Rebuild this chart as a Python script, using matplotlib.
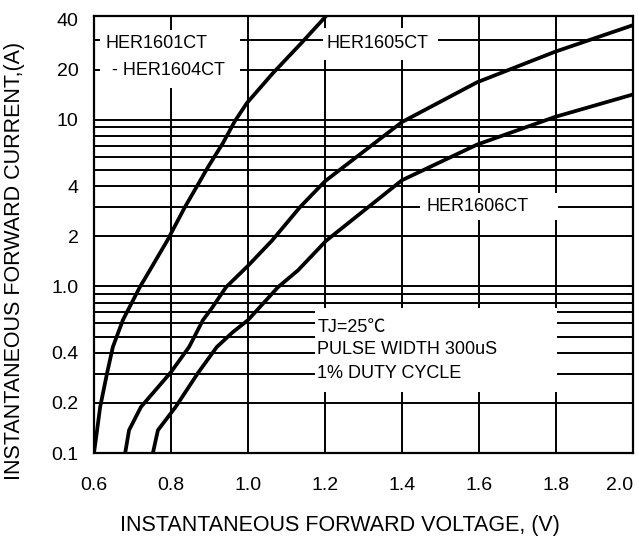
import matplotlib
matplotlib.use("Agg")
import matplotlib.pyplot as plt
from matplotlib.ticker import FixedLocator, FixedFormatter, NullFormatter
from matplotlib.patches import Rectangle

plt.rcParams['font.family'] = ['Liberation Sans', 'Noto Sans CJK SC', 'DejaVu Sans']

# Data (forward voltage V, forward current A)
v_1601 = [0.600, 0.608, 0.616, 0.634, 0.649, 0.675, 0.719, 0.745, 0.790, 0.836, 0.875,
          0.896, 0.935, 0.966, 0.997, 1.065, 1.138, 1.203]
i_1601 = [0.100, 0.137, 0.189, 0.302, 0.433, 0.628, 0.99, 1.25, 1.88, 2.99, 4.28,
          5.2, 7.26, 9.83, 12.6, 19.1, 28.8, 42.0]

v_1605 = [0.681, 0.691, 0.722, 0.800, 0.847, 0.883, 0.906, 0.943, 1.000, 1.062, 1.135,
          1.200, 1.400, 1.595, 1.797, 2.000]
i_1605 = [0.100, 0.137, 0.189, 0.306, 0.433, 0.628, 0.74, 0.99, 1.33, 1.88, 2.99,
          4.28, 9.7, 16.8, 25.6, 37.0]

v_1606 = [0.753, 0.766, 0.812, 0.870, 0.919, 0.960, 1.000, 1.078, 1.130, 1.187, 1.203,
          1.400, 1.595, 1.797, 2.000]
i_1606 = [0.100, 0.137, 0.189, 0.302, 0.433, 0.53, 0.628, 0.99, 1.25, 1.72, 1.88,
          4.34, 7.1, 10.4, 14.2]

x_ticks = [0.6, 0.8, 1.0, 1.2, 1.4, 1.6, 1.8, 2.0]
x_tick_labels = ["0.6", "0.8", "1.0", "1.2", "1.4", "1.6", "1.8", "2.0"]
y_ticks = [0.1, 0.2, 0.4, 1.0, 2, 4, 10, 20, 40]
y_tick_labels = ["0.1", "0.2", "0.4", "1.0", "2", "4", "10", "20", "40"]
y_grid = [0.2, 0.3, 0.4, 0.5, 0.6, 0.7, 0.8, 0.9, 1, 2, 3, 4, 5, 6, 7, 8, 9, 10, 20, 30]

fig = plt.figure(figsize=(6.39, 5.39), dpi=100)
ax = fig.add_axes([94/639, 86/539, 539/639, 437/539])
ax.set_yscale('log')
ax.set_xlim(0.6, 2.0)
ax.set_ylim(0.1, 42)

# grid
for yv in y_grid:
    ax.axhline(yv, color='black', lw=1.4, zorder=1)
for xv in x_ticks[1:-1]:
    ax.axvline(xv, color='black', lw=1.4, zorder=1)

ax.yaxis.set_major_locator(FixedLocator(y_ticks))
ax.yaxis.set_major_formatter(FixedFormatter(y_tick_labels))
ax.yaxis.set_minor_locator(FixedLocator([]))
ax.yaxis.set_minor_formatter(NullFormatter())
ax.set_xticks(x_ticks)
ax.set_xticklabels(x_tick_labels)
ax.tick_params(axis='both', which='both', length=0, labelsize=14)
ax.tick_params(axis='x', pad=17)
ax.tick_params(axis='y', pad=11)
ax.get_xticklabels()[-1].set_horizontalalignment('right')
for s in ax.spines.values():
    s.set_linewidth(1.6)

# white boxes hiding gridlines under the labels
boxes = [
    (0.011, 0.835, 0.260, 0.133),
    (0.425, 0.899, 0.213, 0.074),
    (0.605, 0.533, 0.256, 0.062),
    (0.410, 0.140, 0.449, 0.192),
]
for (bx, by, bw, bh) in boxes:
    ax.add_patch(Rectangle((bx, by), bw, bh, transform=ax.transAxes,
                           facecolor='white', edgecolor='none', zorder=2))

for vv, ii in [(v_1601, i_1601), (v_1605, i_1605), (v_1606, i_1606)]:
    ax.plot(vv, ii, color='black', lw=2.7, zorder=4,
            solid_capstyle='butt', solid_joinstyle='round')

tkw = dict(transform=ax.transAxes, fontsize=13, zorder=5, va='center')
ax.text(0.022, 0.938, "HER1601CT", ha='left', **tkw)
ax.text(0.033, 0.876, "- HER1604CT", ha='left', **tkw)
ax.text(0.432, 0.938, "HER1605CT", ha='left', **tkw)
ax.text(0.712, 0.563, "HER1606CT", ha='center', **tkw)
ax.text(0.414, 0.288, "TJ=25\u2103", ha='left', **tkw)
ax.text(0.414, 0.236, "PULSE WIDTH 300uS", ha='left', **tkw)
ax.text(0.414, 0.183, "1% DUTY CYCLE", ha='left', **tkw)

fig.text(340/639, 1 - 525/539, "INSTANTANEOUS FORWARD VOLTAGE, (V)", ha='center', va='center', fontsize=15.5)
fig.text(15/639, 1 - 261/539, "INSTANTANEOUS FORWARD CURRENT,(A)", ha='center', va='center',
         rotation=90, fontsize=15.5)

fig.savefig("out.png", dpi=100, facecolor='white')
